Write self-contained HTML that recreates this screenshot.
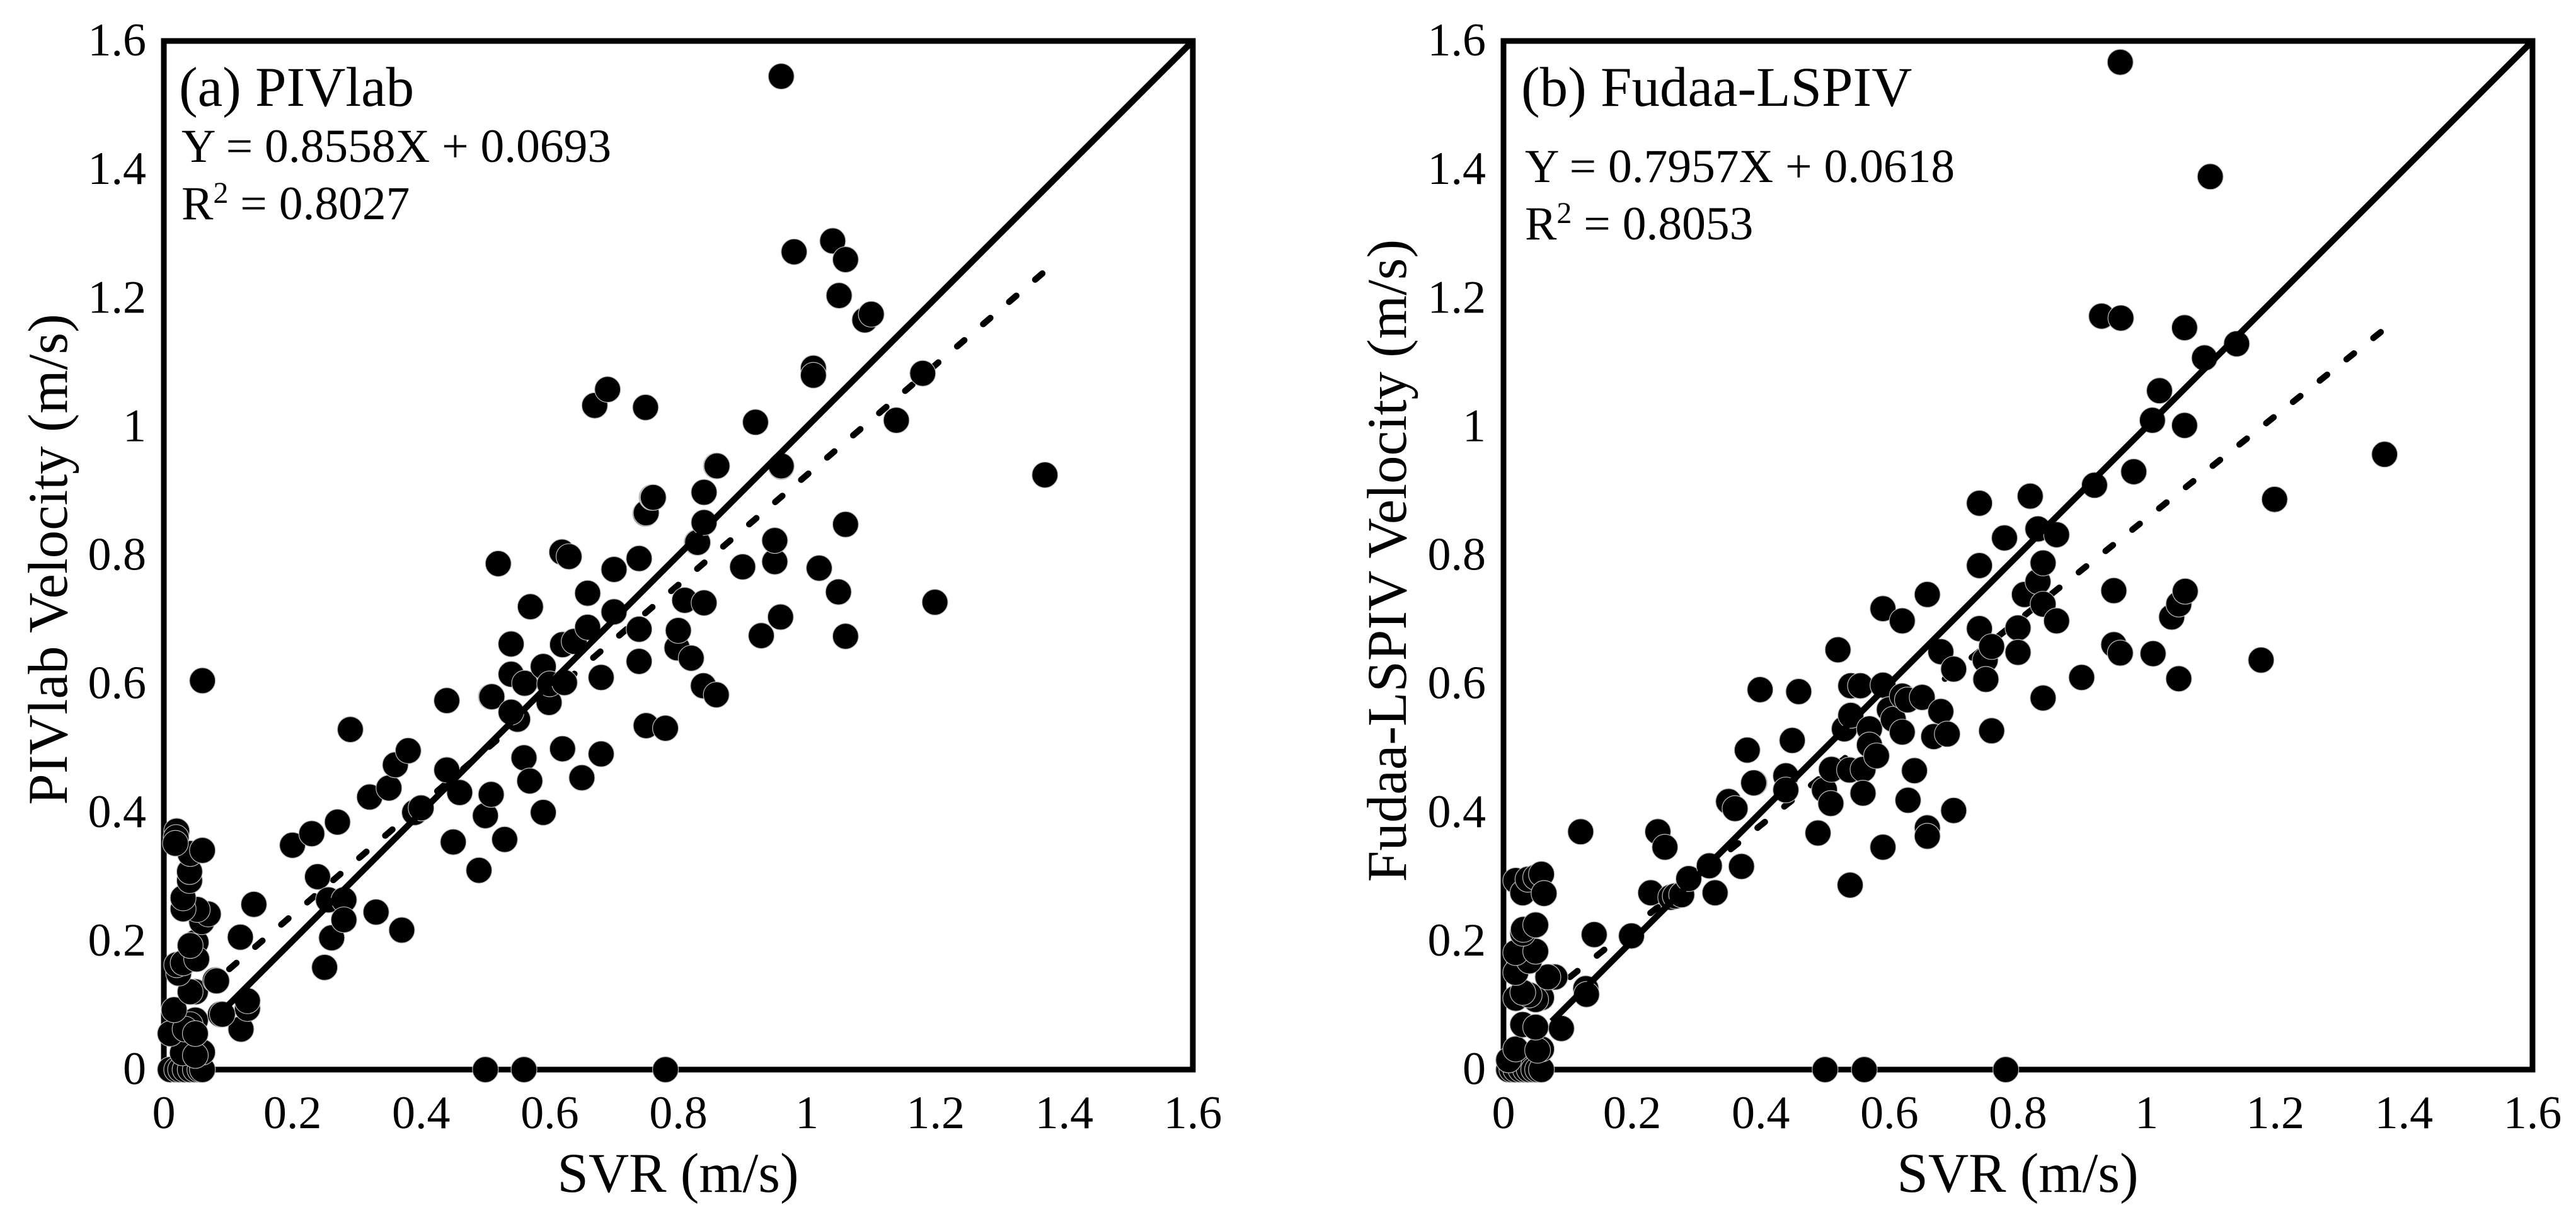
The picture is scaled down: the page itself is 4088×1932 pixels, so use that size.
<!DOCTYPE html>
<html lang="en">
<head>
<meta charset="utf-8">
<title>PIVlab and Fudaa-LSPIV velocity against SVR</title>
<style>
html,body{margin:0;padding:0;background:#fff;}
svg{display:block;}
text{font-family:"Liberation Serif",serif;fill:#000;}
.tick{font-size:74px;}
.title{font-size:89px;}
.panel{font-size:89px;}
.eq{font-size:75.5px;}
</style>
</head>
<body>
<svg id="figure" xmlns="http://www.w3.org/2000/svg" width="4088" height="1932" viewBox="0 0 4088 1932">
  <rect x="0" y="0" width="4088" height="1932" fill="#fff"/>
  <g id="panel-a">
    <text class="title" x="1076" y="1892" text-anchor="middle">SVR (m/s)</text>
    <text class="title" transform="translate(106 888) rotate(-90)" text-anchor="middle">PIVlab Velocity (m/s)</text>
    <text class="panel" x="284" y="168">(a) PIVlab</text>
    <text class="eq" x="288" y="257">Y = 0.8558X + 0.0693</text>
    <text class="eq" x="288" y="348">R<tspan font-size="48" dy="-26">2</tspan><tspan dy="26"> = 0.8027</tspan></text>
  </g>
  <g id="panel-b">
    <text class="title" x="3202" y="1892" text-anchor="middle">SVR (m/s)</text>
    <text class="title" transform="translate(2231 890) rotate(-90)" text-anchor="middle">Fudaa-LSPIV Velocity (m/s)</text>
    <text class="panel" x="2414" y="168">(b) Fudaa-LSPIV</text>
    <text class="eq" x="2420" y="289">Y = 0.7957X + 0.0618</text>
    <text class="eq" x="2420" y="380">R<tspan font-size="48" dy="-26">2</tspan><tspan dy="26"> = 0.8053</tspan></text>
  </g>
</svg>
<script>
var tickLabels = ["0","0.2","0.4","0.6","0.8","1","1.2","1.4","1.6"];
var tickValues = [0,0.2,0.4,0.6,0.8,1,1.2,1.4,1.6];

var fitA = [0.8558, 0.0693];
var fitB = [0.7957, 0.0618];
var fitRangeA = [1.366, 0.10];
var fitRangeB = [1.364, 0.10];
var identityRangeA = [0.09, 1.6];
var identityRangeB = [0.075, 1.6];

var svrA = [
0.01,0.02,0.026,0.033,0.041,0.049,0.056,0.06,0.5,0.56,0.78,
0.029,0.06,0.049,0.01,0.049,0.041,0.033,0.049,0.016,0.12,0.13,0.13,0.049,0.041,0.08,
0.023,0.02,0.03,0.05,0.051,0.041,0.082,0.059,0.069,0.052,0.03,0.03,0.04,0.04,0.041,0.06,0.02,0.019,0.018,
0.088,0.091,0.119,0.14,0.2,0.23,0.27,0.239,0.25,0.261,0.256,0.28,0.28,0.33,0.37,0.29,0.06,0.32,0.35,0.36,0.38,0.39,0.40,
0.44,0.44,0.45,0.46,0.49,0.5,0.509,0.509,0.51,0.52,0.53,0.54,0.54,0.55,0.54,0.561,0.56,0.569,0.57,0.59,0.59,0.599,0.60,0.62,0.623,0.62,0.619,0.63,0.638,0.65,0.659,0.659,
0.67,0.69,0.68,0.68,0.70,0.70,0.739,0.739,0.739,0.749,0.75,0.749,0.75,0.759,0.76,0.761,0.78,0.798,0.80,0.81,0.82,0.829,0.83,0.839,0.84,0.84,0.84,0.859,0.859,0.86,
0.90,0.92,0.929,0.95,0.95,0.95,0.96,0.959,0.96,0.96,0.98,1.01,1.01,1.019,1.04,1.049,1.05,1.06,1.06,1.06,1.09,1.10,1.139,1.18,1.199,1.37
];
var pivlabY = [
0,0,0,0,0,0,0,0,0,0,0,
0.026,0.027,0.022,0.056,0.077,0.07,0.063,0.056,0.093,0.063,0.095,0.107,0.121,0.121,0.139,
0.15,0.163,0.166,0.198,0.172,0.193,0.138,0.23,0.242,0.249,0.25,0.267,0.294,0.308,0.336,0.341,0.371,0.361,0.352,
0.086,0.086,0.206,0.257,0.349,0.367,0.385,0.30,0.159,0.205,0.264,0.264,0.233,0.245,0.217,0.529,0.605,0.424,0.438,0.474,0.496,0.40,0.407,
0.574,0.466,0.354,0.431,0.31,0.395,0.58,0.428,0.58,0.787,0.358,0.662,0.615,0.545,0.556,0.601,0.485,0.449,0.72,0.627,0.40,0.571,0.60,0.661,0.602,0.499,0.805,0.798,0.666,0.454,0.741,0.688,
1.033,1.058,0.61,0.491,0.778,0.712,0.795,0.685,0.635,0.865,0.866,1.03,0.535,0.89,0.89,0.89,0.531,0.656,0.683,0.73,0.64,0.82,0.82,0.597,0.851,0.898,0.726,0.583,0.939,0.939,
0.782,1.007,0.675,0.823,0.79,0.823,0.938,0.704,0.939,1.545,1.272,1.091,1.08,0.78,1.289,0.743,1.204,0.848,0.674,1.26,1.166,1.175,1.01,1.083,0.727,0.925
];

var svrB = [
0.008,0.013,0.019,0.027,0.034,0.04,0.047,0.053,0.059,0.5,0.561,0.781,
0.008,0.019,0.059,0.053,0.03,0.05,0.09,0.019,0.059,0.05,0.04,0.03,0.128,0.129,0.08,0.069,0.019,0.04,0.019,0.05,0.03,0.031,0.05,
0.019,0.03,0.038,0.05,0.059,0.063,0.12,0.141,0.199,0.229,0.24,0.251,0.26,0.267,0.277,0.288,0.32,0.329,0.37,
0.35,0.36,0.379,0.39,0.399,0.389,0.439,0.439,0.449,0.459,0.489,0.499,0.509,0.51,0.52,0.53,0.538,0.539,0.54,0.54,0.555,0.559,0.559,0.569,0.569,0.58,
0.59,0.59,0.59,0.60,0.606,0.62,0.62,0.62,0.628,0.629,0.639,0.651,0.659,0.659,0.659,0.669,0.68,0.68,0.69,0.70,0.70,
0.74,0.74,0.74,0.749,0.75,0.759,0.759,0.779,0.80,0.80,0.81,0.819,0.831,0.831,0.839,0.839,0.839,0.86,0.86,
0.899,0.919,0.93,0.949,0.949,0.959,0.96,0.959,0.98,1.009,1.01,1.02,1.039,1.05,1.05,1.059,1.06,1.059,1.09,1.099,1.14,1.178,1.199,1.37
];
var fudaaY = [
0,0,0,0,0,0,0,0,0,0,0,0,
0.015,0.032,0.032,0.03,0.07,0.066,0.064,0.111,0.112,0.109,0.116,0.12,0.126,0.117,0.144,0.144,0.151,0.169,0.182,0.184,0.212,0.218,0.225,
0.294,0.275,0.296,0.299,0.304,0.274,0.37,0.21,0.208,0.275,0.37,0.346,0.268,0.27,0.272,0.297,0.317,0.275,0.316,
0.417,0.406,0.497,0.446,0.591,0.446,0.457,0.435,0.512,0.588,0.368,0.435,0.414,0.467,0.653,0.53,0.466,0.287,0.551,0.597,0.597,0.467,0.43,0.53,0.505,0.488,
0.717,0.346,0.598,0.56,0.545,0.698,0.581,0.525,0.575,0.419,0.465,0.579,0.739,0.376,0.363,0.518,0.65,0.557,0.522,0.623,0.403,
0.784,0.686,0.881,0.637,0.607,0.658,0.527,0.827,0.687,0.649,0.739,0.892,0.841,0.759,0.788,0.724,0.578,0.832,0.698,
0.61,0.909,1.172,0.745,0.661,0.648,1.169,1.567,0.93,1.01,0.647,1.056,0.704,0.724,0.608,1.002,0.744,1.154,1.107,1.389,1.129,0.637,0.887,0.957
];

var UNIT = 1020.6;
var NS = "http://www.w3.org/2000/svg";
var BOTTOM = 1698;

function axisY(v){ return BOTTOM - v * UNIT; }
function axisXA(v){ return 260 + v * UNIT; }
function axisXB(v){ return 2386 + v * UNIT; }

function make(tag){ return document.createElementNS(NS, tag); }

function drawFrame(group, axisX){
  var frame = make("rect");
  
  
  frame.setAttribute("x", axisX(0));
  frame.setAttribute("y", axisY(1.6));
  frame.setAttribute("width", axisX(1.6) - axisX(0));
  frame.setAttribute("height", axisY(0) - axisY(1.6));
  frame.setAttribute("fill", "none");
  frame.setAttribute("stroke", "#000");
  frame.setAttribute("stroke-width", "9");
  group.appendChild(frame);
}

function drawTicks(group, axisX, yLabelRight){
  tickValues.forEach(function(v, i){
    var tx = make("text");
    
    
    tx.setAttribute("class", "tick");
    tx.setAttribute("x", axisX(v));
    tx.setAttribute("y", 1791);
    tx.setAttribute("text-anchor", "middle");
    tx.textContent = tickLabels[i];
    group.appendChild(tx);
    var ty = make("text");
    
    
    ty.setAttribute("class", "tick");
    ty.setAttribute("x", yLabelRight);
    ty.setAttribute("y", axisY(v) + 23);
    ty.setAttribute("text-anchor", "end");
    ty.textContent = tickLabels[i];
    group.appendChild(ty);
  });
}

function drawFit(group, axisX, fit, range){
  var line = make("line");
  
  
  line.setAttribute("x1", axisX(range[0]));
  line.setAttribute("y1", axisY(fit[0] * range[0] + fit[1]));
  line.setAttribute("x2", axisX(range[1]));
  line.setAttribute("y2", axisY(fit[0] * range[1] + fit[1]));
  line.setAttribute("stroke", "#000");
  line.setAttribute("stroke-width", "10");
  line.setAttribute("stroke-linecap", "round");
  line.setAttribute("stroke-dasharray", "15 39.3");
  group.appendChild(line);
}

function drawPoints(group, axisX, xs, ys){
  xs.forEach(function(x, i){
    var c = make("circle");
    
    
    c.setAttribute("cx", axisX(x));
    c.setAttribute("cy", axisY(ys[i]));
    c.setAttribute("r", "20.5");
    c.setAttribute("fill", "#000");
    c.setAttribute("stroke", "#bdbdbd");
    c.setAttribute("stroke-width", "1.2");
    group.appendChild(c);
  });
}

function drawIdentity(group, axisX, range){
  var line = make("line");
  
  
  line.setAttribute("x1", axisX(range[0]));
  line.setAttribute("y1", axisY(range[0]));
  line.setAttribute("x2", axisX(range[1]));
  line.setAttribute("y2", axisY(range[1]));
  line.setAttribute("stroke", "#000");
  line.setAttribute("stroke-width", "10");
  group.appendChild(line);
}

var groupA = document.getElementById("panel-a");
var groupB = document.getElementById("panel-b");

drawFrame(groupA, axisXA);
drawTicks(groupA, axisXA, 232);
drawFit(groupA, axisXA, fitA, fitRangeA);
drawPoints(groupA, axisXA, svrA, pivlabY);
drawIdentity(groupA, axisXA, identityRangeA);

drawFrame(groupB, axisXB);
drawTicks(groupB, axisXB, 2358);
drawFit(groupB, axisXB, fitB, fitRangeB);
drawPoints(groupB, axisXB, svrB, fudaaY);
drawIdentity(groupB, axisXB, identityRangeB);
</script>
</body>
</html>
